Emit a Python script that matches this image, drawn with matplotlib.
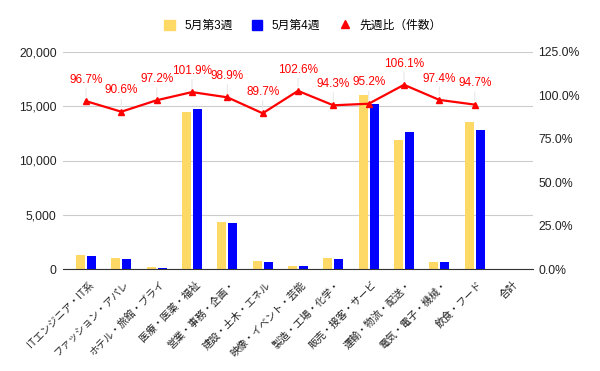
import matplotlib
matplotlib.use('Agg')
import matplotlib.pyplot as plt
import matplotlib.transforms as mtransforms
from matplotlib.lines import Line2D
from matplotlib.patches import Patch
import numpy as np

plt.rcParams['font.family'] = ['Liberation Sans', 'Noto Sans CJK JP']

# ----- data -----
categories = ['ITエンジニア・IT系', 'ファッション・アパレ', 'ホテル・旅館・ブライ', '医療・医薬・福祉',
              '営業・事務・企画・', '建設・土木・エネル', '映像・イベント・芸能', '製造・工場・化学・',
              '販売・接客・サービ', '運輸・物流・配送・', '電気・電子・機械・', '飲食・フード', '合計']
week3 = [1290, 1040, 140, 14500, 4330, 740, 280, 1010, 16040, 11890, 660, 13550, np.nan]
week4 = [1170, 940, 136, 14750, 4270, 660, 287, 950, 15250, 12620, 640, 12830, np.nan]
ratio = [96.7, 90.6, 97.2, 101.9, 98.9, 89.7, 102.6, 94.3, 95.2, 106.1, 97.4, 94.7, np.nan]

yellow = '#FFD966'
blue = '#0000FF'
red = '#FF0000'

fig = plt.figure(figsize=(6, 3.71), dpi=100)
ax = fig.add_axes([63/600, 1 - 269/371, 470/600, 217/371])
ax2 = ax.twinx()

x = np.arange(len(categories))
w = 0.255
off = 0.156
ax.bar(x - off, week3, w, color=yellow, zorder=2)
ax.bar(x + off, week4, w, color=blue, zorder=2)

ax.set_ylim(0, 20000)
ax.set_yticks(np.arange(0, 20001, 5000))
ax.set_yticklabels([f'{v:,}' for v in range(0, 20001, 5000)], fontsize=8.8, color='#222222')
ax.set_xlim(-0.65, 12.65)
ax.set_xticks(x)
ax.set_xticklabels([])
# rotated category labels, nudged right/down of the tick like the original
lab_tr = ax.get_xaxis_transform() + mtransforms.ScaledTranslation(6/100, -14/100, fig.dpi_scale_trans)
for xi, c in zip(x, categories):
    ax.text(xi, 0, c, transform=lab_tr, rotation=45, ha='right', va='center',
            rotation_mode='anchor', fontsize=7.3, color='#222222', family=['Noto Sans CJK JP'])
ax.grid(axis='y', color='#cccccc', lw=0.8, zorder=0)
ax.tick_params(length=0, pad=4.5)
for s in ['top', 'left', 'right']:
    ax.spines[s].set_visible(False)
ax.spines['bottom'].set_color('#333333')
ax.spines['bottom'].set_linewidth(0.8)

ax2.plot(x, ratio, color=red, lw=1.6, marker='^', ms=4, zorder=3)
ax2.set_ylim(0, 125)
ax2.set_yticks(np.arange(0, 126, 25))
ax2.set_yticklabels([f'{v:.1f}%' for v in range(0, 126, 25)], fontsize=8.8, color='#222222')
ax2.tick_params(length=0, pad=4)
for s in ['top', 'left', 'right', 'bottom']:
    ax2.spines[s].set_visible(False)

for xi, r in zip(x, ratio):
    if np.isnan(r):
        continue
    ax2.annotate(f'{r:.1f}%', xy=(xi, r), xytext=(0, 11), textcoords='offset points',
                 ha='center', va='bottom', fontsize=8.5, color=red,
                 arrowprops=dict(arrowstyle='-', color='#e8e8e8', lw=0.8, shrinkA=0, shrinkB=3))

handles = [Patch(color=yellow, label='5月第3週'),
           Patch(color=blue, label='5月第4週'),
           Line2D([], [], color=red, marker='^', ls='none', ms=6, label='先週比（件数）')]
fig.legend(handles=handles, loc='center', bbox_to_anchor=(0.505, 0.93), ncol=3, frameon=False,
           fontsize=8.5, handlelength=0.9, handleheight=1.0, columnspacing=1.6, handletextpad=0.8)

fig.savefig('out.png', dpi=100)
